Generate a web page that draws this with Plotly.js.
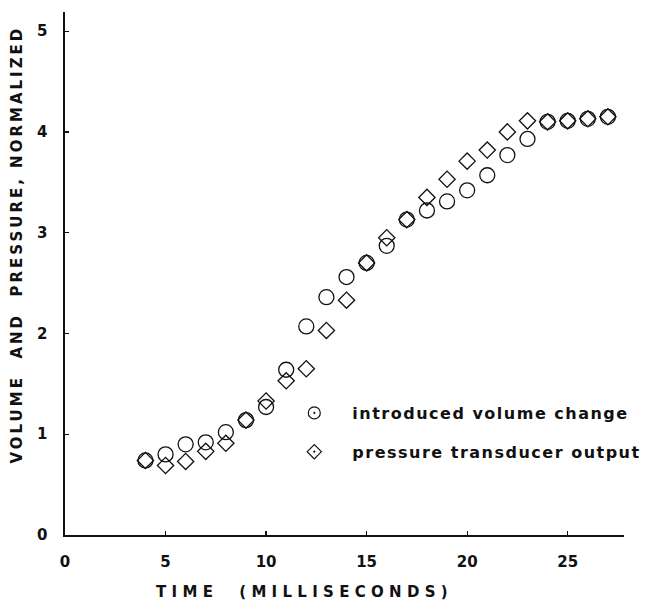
<!DOCTYPE html>
<html>
<head>
<meta charset="utf-8">
<script src="https://cdn.plot.ly/plotly-3.0.1.min.js"></script>
<style>
  html, body { margin: 0; padding: 0; background: #fff; }
  #chart { width: 672px; height: 601px; }
  .legendtext { letter-spacing: 1.5px; }
</style>
</head>
<body>
<div id="chart"></div>
<script>
// Data
const timeMs = [4, 5, 6, 7, 8, 9, 10, 11, 12, 13, 14, 15, 16, 17, 18, 19, 20, 21, 22, 23, 24, 25, 26, 27];
const volumeChange = [0.74, 0.80, 0.90, 0.92, 1.02, 1.14, 1.27, 1.64, 2.07, 2.36, 2.56, 2.70, 2.87, 3.13, 3.22, 3.31, 3.42, 3.57, 3.77, 3.93, 4.10, 4.11, 4.13, 4.15];
const pressureOutput = [0.74, 0.69, 0.73, 0.83, 0.91, 1.14, 1.33, 1.53, 1.65, 2.03, 2.33, 2.70, 2.95, 3.13, 3.35, 3.53, 3.71, 3.82, 4.00, 4.11, 4.10, 4.11, 4.13, 4.15];
const seriesNames = ["introduced volume change", "pressure transducer output"];
const xTickVals = [0, 5, 10, 15, 20, 25];
const yTickVals = [0, 1, 2, 3, 4, 5];
const xTitle = "TIME\u00a0\u00a0(MILLISECONDS)";
const yTitle = "VOLUME\u00a0\u00a0AND\u00a0\u00a0PRESSURE,\u00a0NORMALIZED";

const font = "DejaVu Sans, Arial, sans-serif";

const traces = [
  {
    x: timeMs, y: volumeChange, type: "scatter", mode: "markers",
    name: seriesNames[0], showlegend: false,
    marker: { symbol: "circle-open", size: 15, color: "#111", line: { width: 1.3, color: "#111" } }
  },
  {
    x: timeMs, y: pressureOutput, type: "scatter", mode: "markers",
    name: seriesNames[1], showlegend: false,
    marker: { symbol: "diamond-open", size: 12.5, color: "#111", line: { width: 1.3, color: "#111" } }
  },
  {
    x: [null], y: [null], type: "scatter", mode: "markers",
    name: seriesNames[0], legendgroup: "a",
    marker: { symbol: "circle-open-dot", size: 12, color: "#111", line: { width: 1.2, color: "#111" } }
  },
  {
    x: [null], y: [null], type: "scatter", mode: "markers",
    name: seriesNames[1], legendgroup: "b",
    marker: { symbol: "diamond-open-dot", size: 11, color: "#111", line: { width: 1.2, color: "#111" } }
  }
];

const axisCommon = {
  showgrid: false, zeroline: false, showline: true, linecolor: "#111", linewidth: 1.6,
  ticks: "inside", ticklen: 4, tickwidth: 1.2, tickcolor: "#111",
  tickfont: { family: font, size: 15, color: "#111", weight: "bold" },
  tickmode: "array", fixedrange: true
};

const layout = {
  width: 672, height: 601,
  margin: { l: 65, r: 48, t: 12, b: 66 },
  paper_bgcolor: "#fff", plot_bgcolor: "#fff",
  font: { family: font, color: "#111" },
  xaxis: Object.assign({}, axisCommon, {
    range: [0, 27.8], tickvals: xTickVals, ticktext: xTickVals.map(String),
    ticklabelstandoff: 12
  }),
  yaxis: Object.assign({}, axisCommon, {
    range: [0, 5.19], tickvals: yTickVals, ticktext: yTickVals.map(String),
    ticklabelstandoff: 13
  }),
  legend: {
    x: 0.378, y: (535 - 432.5) / 523, xanchor: "left", yanchor: "middle",
    itemwidth: 66, tracegroupgap: 15, traceorder: "grouped",
    bgcolor: "rgba(0,0,0,0)", borderwidth: 0,
    font: { family: font, size: 16, color: "#111", weight: "bold" }
  },
  annotations: [
    {
      text: xTitle, xref: "paper", yref: "paper",
      x: (304 - 65) / 559, y: -(592 - 535) / 523, xanchor: "center", yanchor: "middle",
      showarrow: false, font: { family: font, size: 15, color: "#111", weight: "bold" }
    },
    {
      text: yTitle, xref: "paper", yref: "paper", textangle: -90,
      x: (17 - 65) / 559, y: (535 - 245) / 523, xanchor: "center", yanchor: "middle",
      showarrow: false, font: { family: font, size: 15, color: "#111", weight: "bold" }
    }
  ]
};

Plotly.newPlot("chart", traces, layout, { staticPlot: true, displayModeBar: false }).then(function (gd) {
  gd.querySelectorAll(".legendtext").forEach(function (t) { t.style.letterSpacing = "1.5px"; });
  const spacing = ["5.3px", "3px"];
  gd.querySelectorAll(".annotation").forEach(function (g, i) {
    const t = g.querySelector(".annotation-text");
    if (t) t.style.letterSpacing = spacing[i] || "3px";
  });
});
</script>
</body>
</html>
